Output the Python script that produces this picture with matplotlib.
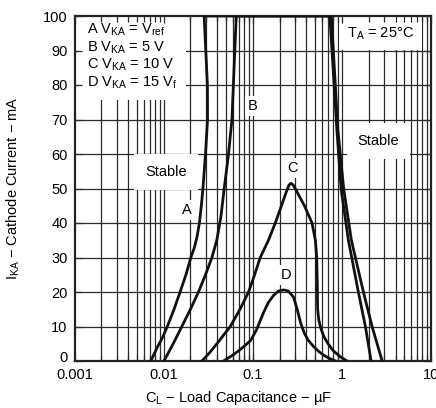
import matplotlib
matplotlib.use("Agg")
import matplotlib.pyplot as plt
import matplotlib.transforms as mtransforms
import numpy as np

plt.rcParams['font.family'] = ['Liberation Sans', 'DejaVu Sans']
plt.rcParams['mathtext.fontset'] = 'custom'
plt.rcParams['mathtext.rm'] = 'Liberation Sans'
plt.rcParams['mathtext.it'] = 'Liberation Sans:italic'

# ---- data (load capacitance uF, cathode current mA) ----
a_cap = [0.00718, 0.0085, 0.0098, 0.0110, 0.0131, 0.0153, 0.0178, 0.0202, 0.0222, 0.0237, 0.0252, 0.0265,
         0.0276, 0.0295, 0.0311, 0.0310, 0.0297, 0.0285,
         0.762, 0.902, 1.047, 1.279, 1.744, 2.183, 2.83]
a_ika = [0, 4, 7, 10, 15, 20, 25, 30, 33, 36, 40, 45,
         50, 60, 70, 80, 90, 100,
         100, 67, 50, 35, 20, 10, 0]

b_cap = [0.0101, 0.0128, 0.0160, 0.0200, 0.0246, 0.0295, 0.0348, 0.0395, 0.0440, 0.0478, 0.0535, 0.0584, 0.0653,
         0.733, 0.879, 0.979, 1.183, 1.531, 1.837, 2.128]
b_ika = [0, 5, 10, 15, 20, 25, 30, 35, 42, 50, 60, 70, 100,
         100, 67, 50, 35, 20, 10, 0]

c_cap = [0.0269, 0.0330, 0.0396, 0.0559, 0.0720, 0.0897, 0.1050, 0.1213, 0.150, 0.179, 0.210, 0.2377, 0.255, 0.2686,
         0.285, 0.314, 0.380, 0.4624, 0.504, 0.522, 0.530, 0.535, 0.550, 0.580, 0.630, 0.700, 0.800, 0.950, 1.14]
c_ika = [0, 2.5, 5, 10, 15, 20, 25, 30, 35, 40, 45, 49, 51, 51.5,
         51, 49, 45, 40, 35, 30, 22, 15, 12, 9.5, 7, 5, 3, 1.3, 0]

d_cap = [0.047, 0.058, 0.070, 0.082, 0.095, 0.110, 0.132, 0.150, 0.171, 0.195, 0.222,
         0.250, 0.287, 0.315, 0.345, 0.380, 0.420, 0.480, 0.560, 0.650, 0.760, 0.85]
d_ika = [0, 1.5, 3, 4.5, 6, 9, 14, 17, 19, 20.3, 20.6,
         20.3, 18.5, 15, 11, 8, 6, 4.2, 2.6, 1.4, 0.5, 0]

curves = [(a_cap, a_ika), (b_cap, b_ika), (c_cap, c_ika), (d_cap, d_ika)]

x_ticks = [0.001, 0.01, 0.1, 1, 10]
x_tick_labels = ['0.001', '0.01', '0.1', '1', '10']
y_ticks = [0, 10, 20, 30, 40, 50, 60, 70, 80, 90, 100]

legend_lines = [r'A V$_{\rm KA}$ = V$_{\rm ref}$', r'B V$_{\rm KA}$ = 5 V',
                r'C V$_{\rm KA}$ = 10 V', r'D V$_{\rm KA}$ = 15 V$_{\rm f}$']
curve_labels = ['A', 'B', 'C', 'D']
curve_label_pos = [(0.0182, 43.8), (0.0987, 73.9), (0.278, 55.9), (0.238, 24.9)]

fig = plt.figure(figsize=(4.36, 4.08), dpi=100)
ax = fig.add_axes([74.5 / 436, 47 / 408, 356.5 / 436, 345 / 408])
ax.set_xscale('log')
ax.set_xlim(0.001, 10)
ax.set_ylim(0, 100)

# grid drawn manually (below white label boxes)
minor_x = [m * 10.0 ** e for e in range(-3, 1) for m in range(2, 10)]
for v in minor_x + x_ticks[1:-1]:
    ax.axvline(v, color='#2a2a2a', lw=0.9, zorder=1)
for v in y_ticks[1:-1]:
    ax.axhline(v, color='#2a2a2a', lw=0.9, zorder=1)

ax.set_xticks(x_ticks)
ax.set_xticklabels(x_tick_labels)
ax.set_yticks(y_ticks)
ax.set_axisbelow(False)
ax.tick_params(which='both', direction='in', top=True, right=True, labelsize=10.5,
               color='#2a2a2a')
ax.tick_params(which='major', length=5, width=0.9, pad=5)
ax.tick_params(which='minor', length=4, width=0.9)
ax.tick_params(axis='x', which='major', pad=5)
for s in ax.spines.values():
    s.set_linewidth(1.6)
    s.set_color('#222222')

# lift the "0" y tick label slightly, as in the reference
fig.canvas.draw()
zero_lbl = ax.get_yticklabels()[0]
zero_lbl.set_transform(zero_lbl.get_transform() +
                       mtransforms.ScaledTranslation(0, 4 / 100, fig.dpi_scale_trans))

for cap, ika in curves:
    ax.plot(cap, ika, color='#111111', lw=2.0, zorder=4, solid_joinstyle='round')

box = dict(facecolor='white', edgecolor='none', pad=2)
for lbl, (x, y) in zip(curve_labels, curve_label_pos):
    ax.text(x, y, lbl, ha='center', va='center', fontsize=10.5, zorder=2, bbox=box)

ax.text(0.0107, 54.8, 'Stable', ha='center', va='center', fontsize=10.5, zorder=2,
        bbox=dict(facecolor='white', edgecolor='none', pad=8))
ax.text(2.57, 63.8, 'Stable', ha='center', va='center', fontsize=10.5, zorder=2,
        bbox=dict(facecolor='white', edgecolor='none', pad=8))
ax.text(2.71, 94.8, r'T$_{\rm A}$ = 25°C', ha='center', va='center', fontsize=10.5, zorder=2,
        bbox=dict(facecolor='white', edgecolor='none', pad=6))

ax.text(0.00138, 88.3, '\n'.join(legend_lines), ha='left', va='center', fontsize=10.5,
        linespacing=1.12, zorder=2,
        bbox=dict(facecolor='white', edgecolor='none', pad=6))

ax.set_xlabel(r'C$_{\rm L}$ − Load Capacitance − µF', fontsize=10.5)
ax.xaxis.label.set_verticalalignment('center')
ax.xaxis.set_label_coords(0.46, -0.107)
ax.set_ylabel(r'I$_{\rm KA}$ − Cathode Current − mA', fontsize=10.5)
ax.yaxis.label.set_verticalalignment('center')
ax.yaxis.set_label_coords(-0.172, 0.5)

fig.savefig('out.png', dpi=100)
